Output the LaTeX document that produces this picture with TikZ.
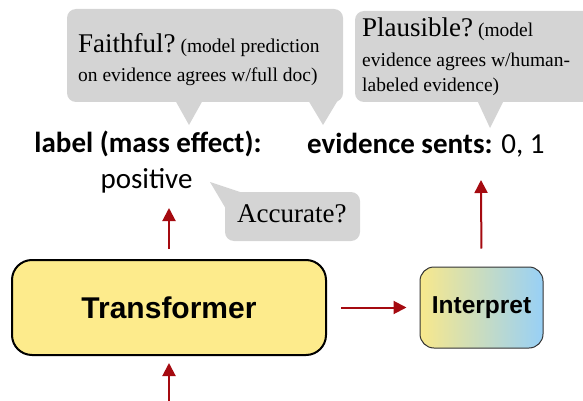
\documentclass[tikz,border=0pt]{standalone}
\usepackage{fontspec}
\setmainfont{Liberation Serif}
\setsansfont{Liberation Sans}
\newfontfamily\carlito{Carlito}
\usetikzlibrary{arrows.meta}
\definecolor{callgray}{RGB}{212,212,212}
\definecolor{arrred}{RGB}{165,10,16}
\definecolor{boxyellow}{RGB}{253,235,140}
\definecolor{shadeyellow}{RGB}{248,232,140}
\definecolor{shadeblue}{RGB}{152,208,246}
\tikzset{
  callout/.style={fill=callgray, draw=none},
  arr/.style={draw=arrred, line width=2pt, -{Triangle[width=13pt,length=13pt]}},
  bigq/.style={font=\fontsize{27}{27}\selectfont, inner sep=0pt, anchor=base west},
  smallq/.style={font=\fontsize{19.5}{19.5}\selectfont, inner sep=0pt, anchor=base west},
  lbl/.style={font=\carlito\fontsize{29}{29}\selectfont, inner sep=0pt, anchor=base},
  mainbox/.style={draw=black, line width=2pt, fill=boxyellow, rounded corners=20pt,
    minimum width=314pt, minimum height=95pt, inner sep=0pt,
    font=\sffamily\bfseries\fontsize{30}{30}\selectfont},
  interpbox/.style={draw=black!80, line width=1pt, rounded corners=14pt,
    left color=shadeyellow, right color=shadeblue,
    minimum width=123pt, minimum height=81pt, inner sep=0pt,
    font=\sffamily\bfseries\fontsize{24.5}{24.5}\selectfont}
}
\begin{document}
\begin{tikzpicture}[x=1pt,y=-1pt]
\useasboundingbox (0,0) rectangle (583,401);
\clip (0,0) rectangle (583,401);
% callout 1
\fill[callout, rounded corners=9pt] (67,9) rectangle (343,102);
\fill[callout] (175,100) -- (203,100) -- (189,125) -- cycle;
\fill[callout] (308,100) -- (338,100) -- (323,125) -- cycle;
\node[bigq] (f1) at (78,53) {Faithful?\fontsize{19.5}{19.5}\selectfont\ (model prediction};
\node[smallq] (f2) at (78,82) {on evidence agrees w/full doc)};
% callout 2
\fill[callout, rounded corners=9pt] (355,11) rectangle (600,102);
\fill[callout] (477,100) -- (504,100) -- (490,128) -- cycle;
\node[bigq] (p1) at (362,37) {Plausible?\fontsize{19.5}{19.5}\selectfont\ (model};
\node[smallq] (p2) at (362,67) {evidence agrees w/human-};
\node[smallq] (p3) at (362,92) {labeled evidence)};
% accurate callout
\fill[callout, rounded corners=9pt] (225,192) rectangle (360,241);
\fill[callout] (210,182) -- (246,194) -- (226,209) -- cycle;
\node[bigq] (acc) at (237,222) {Accurate?};
% labels
\node[lbl] (lab) at (148,152) {\bfseries label (mass effect):};
\node[lbl] (pos) at (146.5,188) {positive};
\node[lbl, anchor=base west] (ev) at (307,153) {\bfseries evidence sents: \mdseries 0, 1};
% boxes
\node[mainbox] (tr) at (169,307.5) {Transformer};
\node[interpbox] (ip) at (481.5,307.5) {Interpret};
% arrows
\coordinate (inp) at (169,401);
\coordinate (labtip) at (169,208);
\coordinate (evtip) at (481,180);
\draw[arr, shorten >=7pt] (inp) -- (tr.south);
\draw[arr, shorten <=10pt] (tr.north) -- (labtip);
\draw[arr, shorten <=14pt, shorten >=13pt] (tr.east) -- (ip.west);
\draw[arr, shorten <=18pt] (ip.north) -- (evtip);
\end{tikzpicture}
\end{document}
